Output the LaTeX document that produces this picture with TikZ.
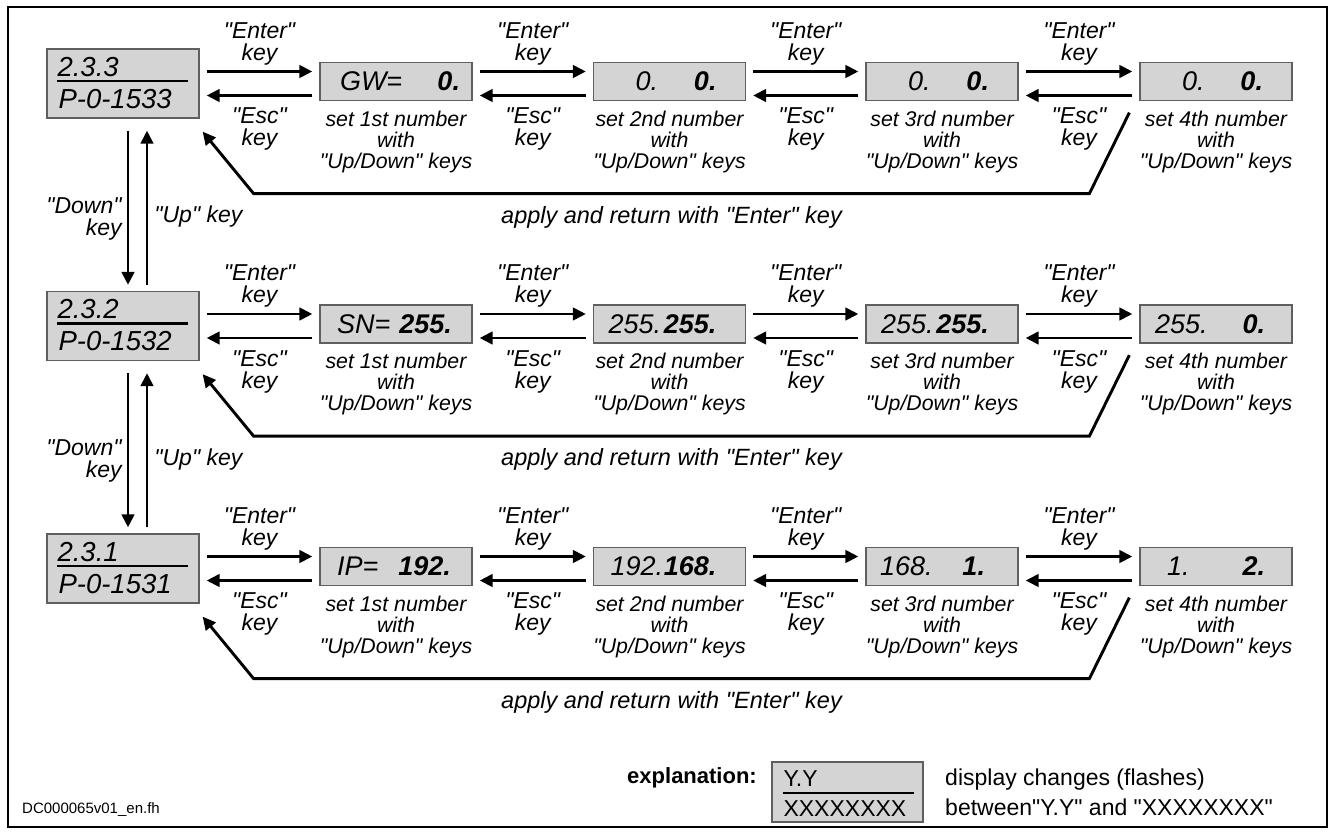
\documentclass[tikz,border=0pt]{standalone}
\usepackage{fontspec}
\setmainfont{Liberation Sans}[Ligatures=TeXOff]
\usetikzlibrary{arrows.meta,calc}
\definecolor{boxfill}{RGB}{212,212,212}
\definecolor{boxline}{RGB}{95,95,95}
\newcommand\dtext[4]{\hbox to 152pt{\hspace{#1pt}#2\hfil\textbf{#3}\hspace{#4pt}}}
\begin{document}
\begin{tikzpicture}[x=1pt,y=-1pt,
  arr/.style={line width=2.9pt,-{Triangle[length=13pt,width=12.5pt]}},
  ret/.style={line width=2.9pt,line join=miter,-{Triangle[length=13pt,width=12.5pt]}},
  disp/.style={draw=boxline,fill=boxfill,line width=1.3pt,minimum width=152pt,minimum height=38pt,inner sep=0pt,font=\fontsize{27}{30}\selectfont\itshape},
  menu/.style={draw=boxline,fill=boxfill,line width=1.3pt,minimum width=152pt,minimum height=69pt,inner sep=0pt},
  menutxt/.style={inner sep=0pt,anchor=base west,font=\fontsize{27.5}{30}\selectfont\itshape},
  keylbl/.style={align=center,inner sep=0pt,font=\fontsize{23}{22}\selectfont\itshape},
  sublbl/.style={align=center,inner sep=0pt,font=\fontsize{21.3}{21}\selectfont\itshape},
  applbl/.style={inner sep=0pt,font=\fontsize{23.5}{24}\selectfont\itshape},
  expl/.style={inner sep=0pt,font=\fontsize{23}{30}\selectfont}
]
\useasboundingbox (0,0) rectangle (1335,835);
\draw[line width=2.5pt] (8,7) rectangle (1327,827);

% menu boxes
\foreach \r/\y/\t/\p in {1/83.5/2.3.3/P-0-1533, 2/326/2.3.2/P-0-1532, 3/568.5/2.3.1/P-0-1531}{
  \node[menu] (L\r) at (123,\y) {};
  \node[menutxt] (Lt\r) at ($(L\r.west)+(11,-7.5)$) {\t};
  \node[menutxt] (Lp\r) at ($(L\r.west)+(12,24.5)$) {\p};
  \draw[line width=2.5pt] ($(L\r.west)+(11,-2.5)$) -- ($(L\r.east)+(-12,-2.5)$);
}

% display boxes
\node[disp] (D11) at (396,81.5)   {\dtext{20}{GW=}{0.}{12}};
\node[disp] (D12) at (669.5,81.5) {\dtext{42}{0.}{0.}{29}};
\node[disp] (D13) at (942,81.5)   {\dtext{42}{0.}{0.}{29}};
\node[disp] (D14) at (1216,81.5)  {\dtext{42}{0.}{0.}{29}};
\node[disp] (D21) at (396,324)    {\dtext{17}{SN=}{255.}{20}};
\node[disp] (D22) at (669.5,324)  {\dtext{15}{255.}{255.}{29}};
\node[disp] (D23) at (942,324)    {\dtext{15}{255.}{255.}{29}};
\node[disp] (D24) at (1216,324)   {\dtext{15}{255.}{0.}{27}};
\node[disp] (D31) at (396,566.5)  {\dtext{17}{IP=}{192.}{21}};
\node[disp] (D32) at (669.5,566.5){\dtext{17}{192.}{168.}{29}};
\node[disp] (D33) at (942,566.5)  {\dtext{14}{168.}{1.}{33}};
\node[disp] (D34) at (1216,566.5) {\dtext{27}{1.}{2.}{27}};

% sub labels
\foreach \r in {1,2,3}{
  \foreach \c/\o in {1/1st,2/2nd,3/3rd,4/4th}{
    \node[sublbl,anchor=north] (s\r\c) at ($(D\r\c.south)+(0,9.5)$) {set \o{} number\\with\\"Up/Down" keys};
  }
}

% Enter / Esc arrows
\foreach \r in {1,2,3}{
  \foreach \a/\b/\dy in {L\r/D\r1/-12, D\r1/D\r2/-10, D\r2/D\r3/-10, D\r3/D\r4/-10}{
    \draw[arr] ($(\a.east)+(7,\dy)$) -- node[keylbl,above=5pt] (en\a) {"Enter"\\key} ($(\b.west)+(-7,-10)$);
    \draw[arr] ($(\b.west)+(-7,14)$) -- node[keylbl,below=11pt] (es\a) {"Esc"\\key} ($(\a.east)+(7,\dy+24)$);
  }
}

% return paths
\foreach \r in {1,2,3}{
  \coordinate (ra\r) at ($(D\r4.south west)+(-10,11.5)$);
  \coordinate (rb\r) at ($(D\r4.south west)+(-50,92.5)$);
  \coordinate (rx\r) at ($(L\r.south east)+(54,0)$);
  \coordinate (rt\r) at ($(L\r.south east)+(3,13)$);
  \draw[ret] (ra\r) -- (rb\r) -- node[applbl,below=11pt] (ap\r) {apply and return with "Enter" key} (rx\r |- rb\r) -- (rt\r);
}

% up/down arrows
\foreach \a/\b in {L1/L2, L2/L3}{
  \draw[arr] ($(\a.south)+(5,12)$) -- node[keylbl,left=5pt,pos=0.57,align=right] (dn\a) {"Down"\\key} ($(\b.north)+(5,-6)$);
  \draw[arr] ($(\b.north)+(24,-6)$) -- node[keylbl,right=6pt,pos=0.44] (up\a) {"Up" key} ($(\a.south)+(24,12)$);
}

% explanation
\node[inner sep=0pt,anchor=base east,font=\fontsize{22}{24}\selectfont\bfseries] (exl) at (757,783) {explanation:};
\node[draw=boxline,fill=boxfill,line width=1.3pt,minimum width=151pt,minimum height=60pt,inner sep=0pt] (E) at (847.5,792) {};
\node[expl,anchor=base west] (Ey) at ($(E.west)+(12,-6)$) {Y.Y};
\node[expl,anchor=base west] (Ex) at ($(E.west)+(12,24)$) {XXXXXXXX};
\draw[line width=2.5pt] ($(E.west)+(12,1)$) -- ($(E.east)+(-10,1)$);
\node[expl,anchor=north west,align=left] (Et) at (945,769) {display changes (flashes)\\between"Y.Y" and "XXXXXXXX"};
\node[inner sep=0pt,anchor=base west,font=\fontsize{15}{16}\selectfont] (dc) at (22,813) {DC000065v01\_en.fh};
\end{tikzpicture}
\end{document}
